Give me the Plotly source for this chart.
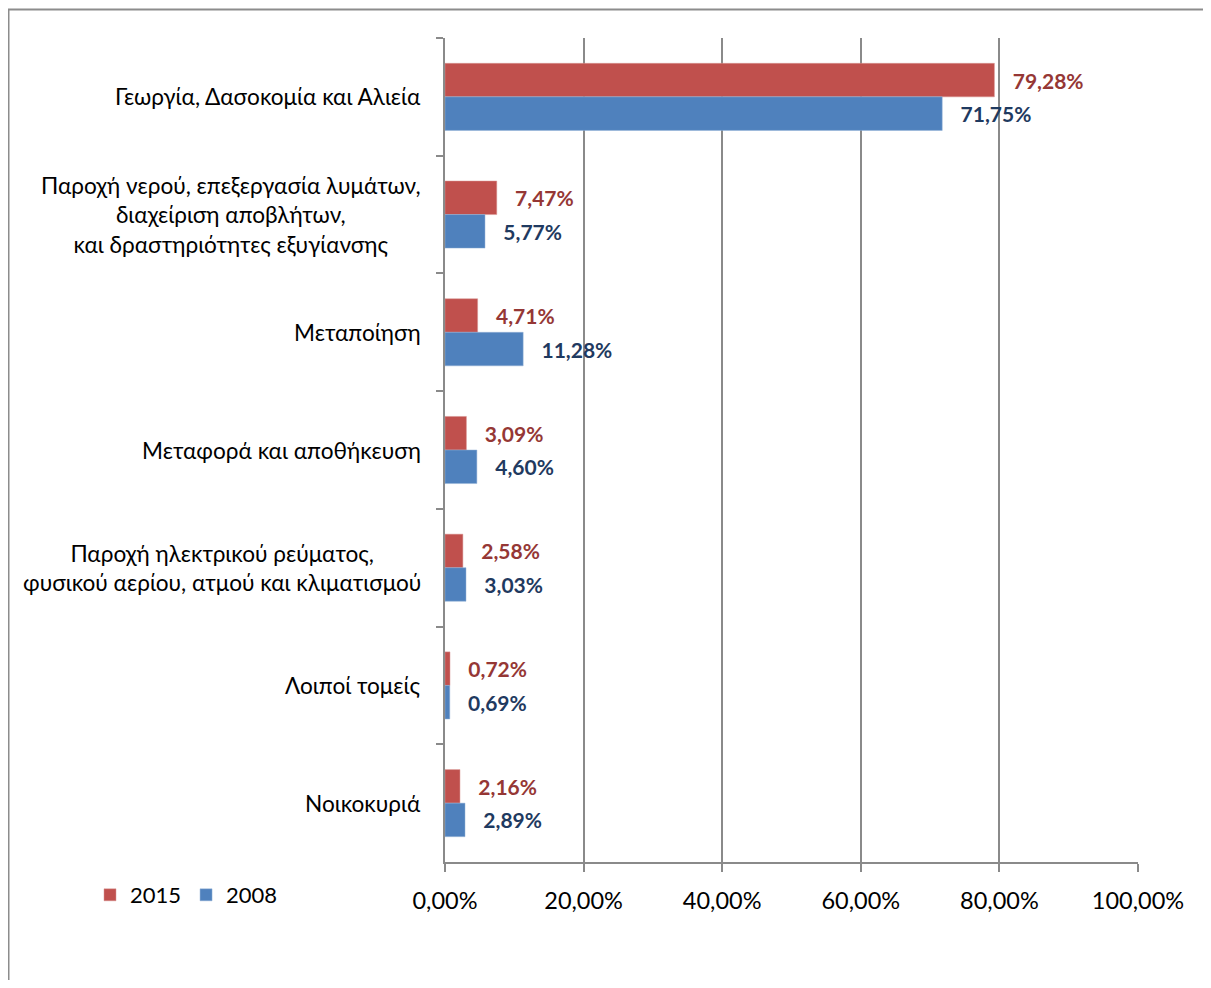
import plotly.graph_objects as go

categories = [
    "Γεωργία, Δασοκομία και Αλιεία",
    "Παροχή νερού, επεξεργασία λυμάτων,<br>διαχείριση αποβλήτων,<br>και δραστηριότητες εξυγίανσης",
    "Μεταποίηση",
    "Μεταφορά και αποθήκευση",
    "Παροχή ηλεκτρικού ρεύματος,<br>φυσικού αερίου, ατμού και κλιματισμού",
    "Λοιποί τομείς",
    "Νοικοκυριά",
]
values_2015 = [79.28, 7.47, 4.71, 3.09, 2.58, 0.72, 2.16]
values_2008 = [71.75, 5.77, 11.28, 4.60, 3.03, 0.69, 2.89]
x_ticks = [0, 20, 40, 60, 80, 100]
x_tick_labels = [f"{v:.2f}%".replace(".", ",") for v in x_ticks]

FONT = "Lato, Carlito, 'Open Sans', sans-serif"
GRID = "#8a8a8a"

W, H = 1203, 972
L, T = 437, 30
PW, PH = 693, 824

fig = go.Figure()
fig.add_trace(go.Bar(
    name="2015", y=categories, x=values_2015, orientation="h",
    marker=dict(color="#C0504D", line=dict(color="#D99694", width=0.5)),
    texttemplate="\u00a0\u00a0\u00a0%{x:.2f}%", textposition="outside",
    textfont=dict(family=FONT, size=21, color="#953735", weight="bold"),
    constraintext="none", cliponaxis=False,
))
fig.add_trace(go.Bar(
    name="2008", y=categories, x=values_2008, orientation="h",
    marker=dict(color="#4F81BD", line=dict(color="#95B3D7", width=0.5)),
    texttemplate="\u00a0\u00a0\u00a0%{x:.2f}%", textposition="outside",
    textfont=dict(family=FONT, size=21, color="#1F3A60", weight="bold"),
    constraintext="none", cliponaxis=False,
))

annotations = []
for c in categories:
    annotations.append(dict(
        x=0, xref="paper", y=c, yref="y", text=c, showarrow=False,
        xanchor="right", yanchor="middle", align="center", xshift=-22,
        font=dict(family=FONT, size=22.6, color="#000000"),
    ))

fig.update_layout(
    width=W, height=H,
    margin=dict(l=L, r=W - L - PW, t=T, b=H - T - PH),
    paper_bgcolor="white", plot_bgcolor="white",
    separators=",.",
    barmode="group", bargap=0.43, bargroupgap=0,
    font=dict(family=FONT, size=22, color="#000000"),
    showlegend=True,
    legend=dict(
        orientation="h", x=(90 - 445) / PW, xanchor="left",
        y=(862 - 895) / PH, yanchor="middle",
        font=dict(family=FONT, size=22, color="#000000"),
        itemwidth=30, traceorder="normal",
    ),
    annotations=annotations,
    shapes=[dict(
        type="rect", xref="paper", yref="paper",
        x0=(8.5 - 445) / PW, x1=2.0, y0=-1.0, y1=(862 - 9.5) / PH,
        line=dict(color="#8c8c8c", width=2), fillcolor="rgba(0,0,0,0)", layer="below",
    )],
)
fig.update_xaxes(
    range=[0, 100], tickvals=x_ticks, ticktext=x_tick_labels,
    showgrid=True, gridcolor=GRID, gridwidth=2,
    showline=True, linecolor=GRID, linewidth=2,
    ticks="outside", ticklen=8, tickwidth=2, tickcolor=GRID,
    zeroline=False, ticklabelstandoff=9,
    tickfont=dict(family=FONT, size=23.5, color="#000000"),
)
fig.update_yaxes(
    autorange="reversed", showticklabels=False,
    showline=True, linecolor=GRID, linewidth=2,
    ticks="outside", ticklen=7, tickwidth=2, tickcolor=GRID,
    tickson="boundaries", showgrid=False, zeroline=False,
)

fig.write_html("out.html")
